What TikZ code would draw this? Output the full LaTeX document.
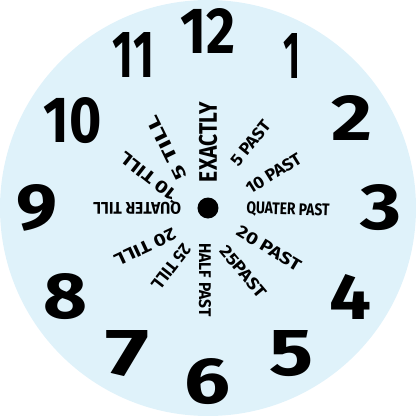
\documentclass[tikz,border=0pt]{standalone}
\usepackage{fontspec}
\newfontfamily\digitfont[Numbers=Proportional]{Fira Sans}
\newfontfamily\handfont{Fira Sans}
\definecolor{faceblue}{RGB}{223,242,250}

\begin{document}
\begin{tikzpicture}[x=1pt, y=1pt]
    % Kiểu vẽ cho mặt đồng hồ
    \tikzset{
        c_face/.style={fill=faceblue, draw=none},
        c_hour/.style={font=\digitfont\bfseries\fontsize{64}{64}\selectfont, inner sep=0pt},
        c_minute/.style={font=\handfont\bfseries\fontsize{14}{14}\selectfont, inner sep=0pt}
    }
    \useasboundingbox (-208,-208) rectangle (208,208);

    % Mặt đồng hồ
    \fill[c_face] (0,0) circle (208);

    % Các số giờ
    \foreach \h/\a/\r/\w in {12/90/177/55, 1/61/174/17, 2/32/170/41, 3/0/173/41, 4/-32/168/42,
                             5/-60/168/44, 6/-90/174/46, 7/-119/166/44, 8/-148/168/44,
                             9/180/171/41, 10/147/161/58, 11/116/170/41} {
        \node[c_hour] (h\h) at (\a:\r) {\resizebox{\w pt}{45pt}{\h}};
    }

    % Nhãn phút theo hướng bán kính
    \foreach \n/\x/\y/\a/\w/\s/\t in {
            exactly/0/66/90/80/18/EXACTLY,
            fivepast/42.5/65/51/53/12/5 PAST,
            tenpast/65.5/34.5/32/62/12/10 PAST,
            quarterpast/80/-2/-2/83/12/QUATER PAST,
            twentypast/61/-40.5/-31/72/12/20 PAST,
            twentyfivepast/35/-63.5/-50/62/12/25PAST,
            halfpast/-3/-72/-90/73/12/HALF PAST,
            twentyfivetill/-37/-59/-128/53/12/25 TILL,
            twentytill/-63/-39/-155/66/12/20 TILL,
            quartertill/-71/1/180/88/12/QUATER TILL,
            tentill/-59.5/32/142/68/12/10 TILL,
            fivetill/-41/60/116/70/12/5 TILL} {
        \node[c_minute, rotate=\a] (m\n) at (\x,\y) {\resizebox{\w pt}{\s pt}{\t}};
    }

    % Tâm đồng hồ
    \fill (0,0) circle (10.5);
\end{tikzpicture}
\end{document}
